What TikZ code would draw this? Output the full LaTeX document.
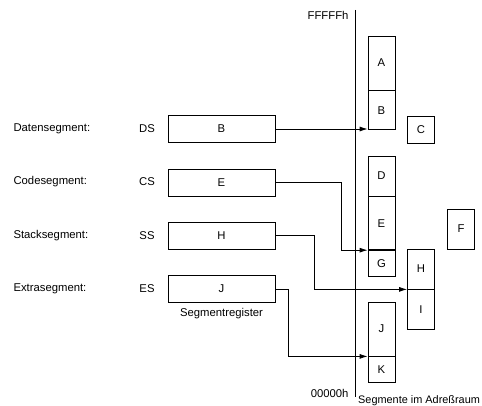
\documentclass[tikz,border=0pt]{standalone}
\usepackage{fontspec}
\setmainfont{Liberation Sans}
\usetikzlibrary{arrows.meta,positioning}

\begin{document}
\begin{tikzpicture}[x=1pt, y=-1pt, font=\fontsize{11.3}{13}\selectfont, >={Latex[length=8pt,width=5pt]},
            reg/.style={rectangle, draw, line width=0.8pt, minimum width=107pt, minimum height=27pt, inner sep=0pt},
            seg/.style={rectangle, draw, line width=0.8pt, minimum width=27pt, inner sep=0pt},
            segname/.style={anchor=west}]
            \useasboundingbox (0,0) rectangle (482,406);
            \coordinate (top) at (355,10);
            \coordinate (bot) at (355,397);
            \draw[line width=0.8pt] (top) -- (bot);
            \node[anchor=east] (hi) at (352,15) {FFFFFh};
            \node[anchor=east] (lo) at (352,393) {00000h};
            \node[anchor=west, inner sep=2pt, font=\fontsize{10.9}{13}\selectfont] (space) at (356,401) {Segmente im Adreßraum};
            \node[seg, minimum height=54pt] (A) at (381.5,63) {A};
            \node[seg, minimum height=39pt, below=0pt of A] (B) {B};
            \node[seg, minimum height=27pt] (C) at (421,129.5) {C};
            \node[seg, minimum height=40pt] (D) at (381.5,176) {D};
            \node[seg, minimum height=53pt, below=0pt of D] (E) {E};
            \node[seg, minimum height=26pt, below=0pt of E] (G) {G};
            \node[seg, minimum height=40pt] (F) at (461,229) {F};
            \node[seg, minimum height=40pt] (H) at (421,269) {H};
            \node[seg, minimum height=40pt, below=0pt of H] (I) {I};
            \node[seg, minimum height=54pt] (J) at (381.5,329) {J};
            \node[seg, minimum height=26pt, below=0pt of J] (K) {K};
            \node[segname] (nds) at (10,129) {Datensegment:};
            \node[segname] (ncs) at (10,182) {Codesegment:};
            \node[segname] (nss) at (10,236) {Stacksegment:};
            \node[segname] (nes) at (10,289) {Extrasegment:};
            \node (ds) at (147,129) {DS};
            \node (cs) at (147,182) {CS};
            \node (ss) at (147,236) {SS};
            \node (es) at (147,289) {ES};
            \node[reg] (rB) at (221.5,129) {B};
            \node[reg] (rE) at (221.5,182.5) {E};
            \node[reg] (rH) at (221.5,235.5) {H};
            \node[reg] (rJ) at (221.5,289) {J};
            \node[below=2pt of rJ] (regs) {Segmentregister};
            \draw[->, line width=0.8pt] (rB.east) -- (rB.east -| B.south west);
            \draw[->, line width=0.8pt] (rE.east) -- ++(66,0) |- (G.north west);
            \draw[->, line width=0.8pt] (rH.east) -- ++(39,0) |- (I.north west);
            \draw[->, line width=0.8pt] (rJ.east) -- ++(13,0) |- (K.north west);
        \end{tikzpicture}
\end{document}
